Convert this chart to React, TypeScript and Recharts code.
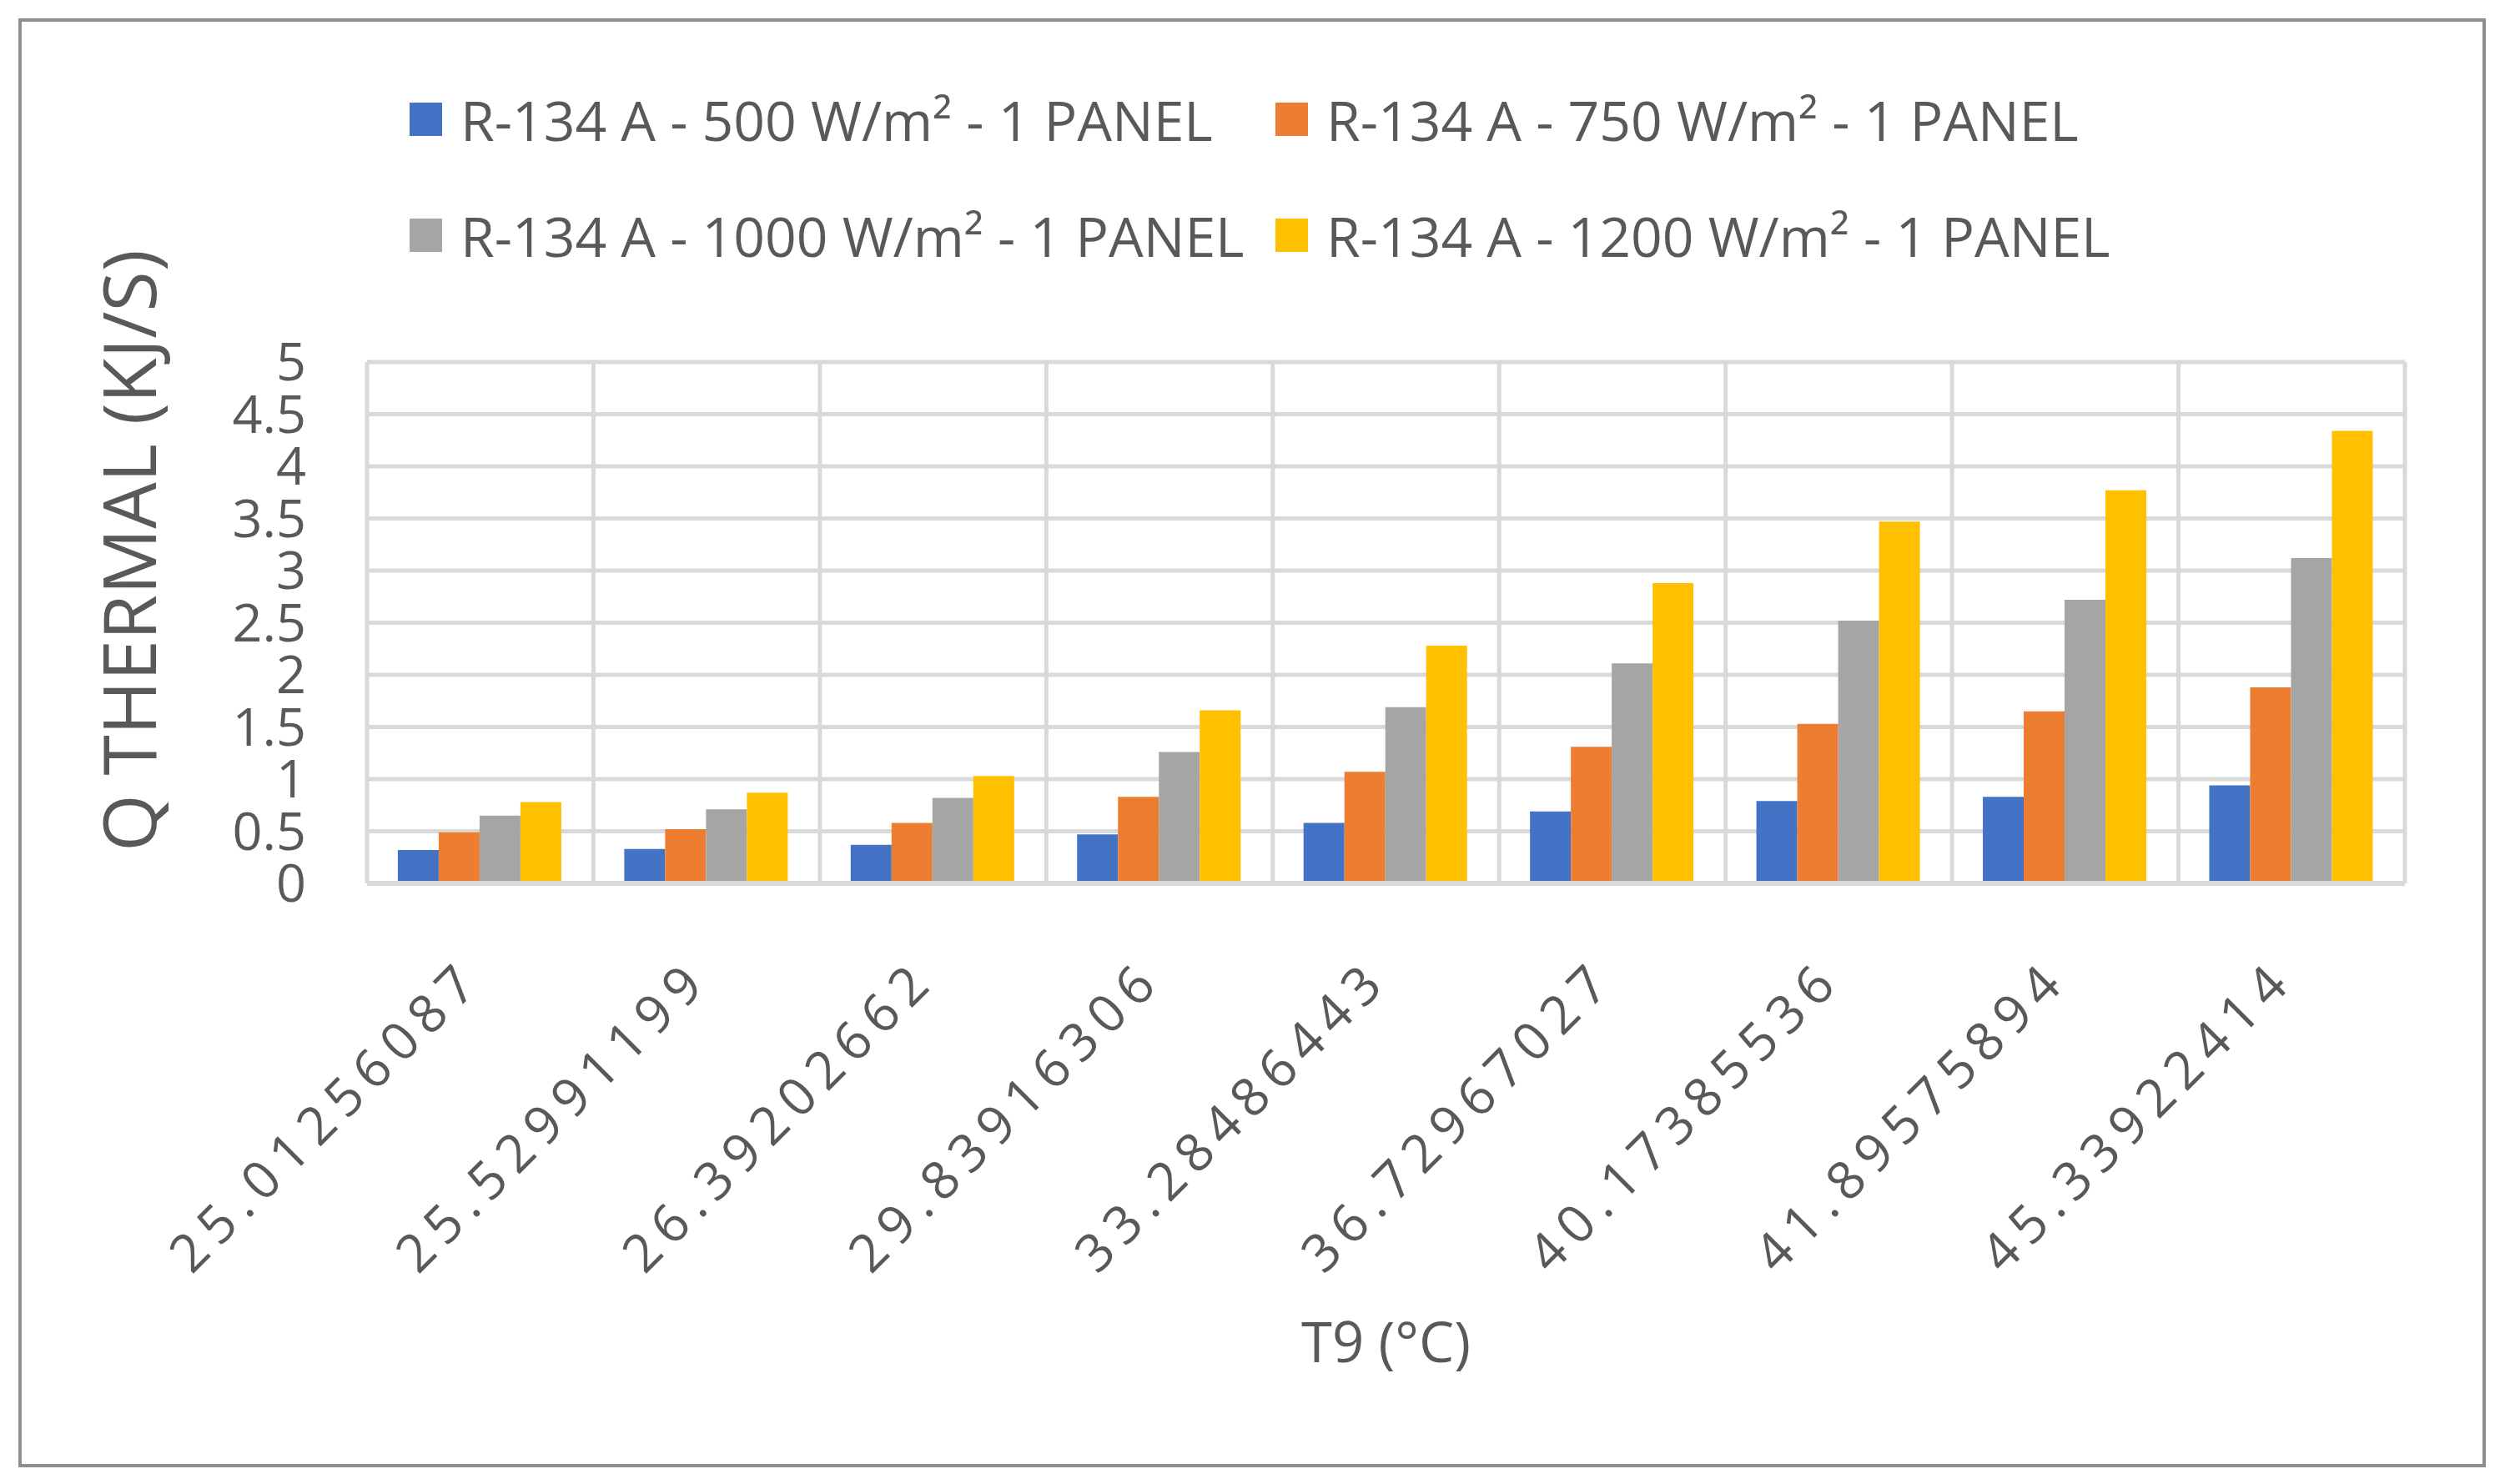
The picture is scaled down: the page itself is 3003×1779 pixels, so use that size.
import { BarChart, Bar, XAxis, YAxis, CartesianGrid, Legend, Label } from "recharts";

const categories = [
  "25.01256087",
  "25.52991199",
  "26.39202662",
  "29.83916306",
  "33.28486443",
  "36.72967027",
  "40.17385536",
  "41.89575894",
  "45.33922414",
];

const q500 = [0.32, 0.33, 0.37, 0.47, 0.58, 0.69, 0.79, 0.83, 0.94];
const q750 = [0.49, 0.52, 0.58, 0.83, 1.07, 1.31, 1.53, 1.65, 1.88];
const q1000 = [0.65, 0.71, 0.82, 1.26, 1.69, 2.11, 2.52, 2.72, 3.12];
const q1200 = [0.78, 0.87, 1.03, 1.66, 2.28, 2.88, 3.47, 3.77, 4.34];

const yTicks = [0, 0.5, 1, 1.5, 2, 2.5, 3, 3.5, 4, 4.5, 5];

const seriesNames = [
  "R-134 A - 500 W/m² - 1 PANEL",
  "R-134 A - 750 W/m² - 1 PANEL",
  "R-134 A - 1000 W/m² - 1 PANEL",
  "R-134 A - 1200 W/m² - 1 PANEL",
];
const seriesColors = ["#4472c4", "#ed7d31", "#a5a5a5", "#ffc000"];

const data = categories.map((t, i) => ({
  t,
  a: q500[i],
  b: q750[i],
  c: q1000[i],
  d: q1200[i],
}));

const FONT = "'Open Sans', 'Noto Sans', sans-serif";
const TEXT = "#595959";

const XTick = ({ x, y, payload }: any) => (
  <g transform={`translate(${x + 6},${y + 118})`}>
    <text
      textAnchor="end"
      transform="rotate(-45)"
      fill={TEXT}
      fontSize={63}
      letterSpacing={11}
      fontFamily={FONT}
    >
      {payload.value}
    </text>
  </g>
);

// legend in two rows, two columns (same order as the bars)
const legendCols = [491, 1529];
const legendRows = [143, 282];

const renderLegend = () => (
  <div style={{ position: "relative", width: 3003, height: 360 }}>
    {seriesNames.map((name, i) => (
      <div
        key={name}
        style={{
          position: "absolute",
          left: legendCols[i % 2],
          top: legendRows[Math.floor(i / 2)] - 50,
          height: 100,
          display: "flex",
          alignItems: "center",
          whiteSpace: "nowrap",
        }}
      >
        <span
          style={{
            width: 39,
            height: 40,
            background: seriesColors[i],
            display: "inline-block",
            marginRight: 22,
          }}
        />
        <span
          style={{
            fontFamily: FONT,
            fontSize: 66,
            color: TEXT,
            lineHeight: 1,
          }}
        >
          {name}
        </span>
      </div>
    ))}
  </div>
);

const App = () => {
  return (
    <div
      style={{
        position: "absolute",
        left: 0,
        top: 0,
        width: 3003,
        height: 1779,
        background: "#fff",
      }}
    >
      <div
        style={{
          position: "absolute",
          left: 22,
          top: 22,
          width: 2958,
          height: 1737,
          border: "4px solid #8e8e8e",
          boxSizing: "border-box",
        }}
      />
      <BarChart
        width={3003}
        height={1779}
        data={data}
        margin={{ top: 434, right: 120, left: 0, bottom: 0 }}
        barCategoryGap="13.6%"
        barGap={0}
        style={{ position: "absolute", left: 0, top: 0 }}
      >
        <CartesianGrid
          stroke="#d9d9d9"
          strokeWidth={5}
          verticalCoordinatesGenerator={({ offset }: any) =>
            Array.from(
              { length: categories.length + 1 },
              (_, i) => offset.left + (i * offset.width) / categories.length
            )
          }
        />
        <XAxis
          dataKey="t"
          height={720}
          interval={0}
          tickSize={0}
          tickMargin={0}
          axisLine={{ stroke: "#d9d9d9", strokeWidth: 6 }}
          tickLine={false}
          tick={<XTick />}
        >
          <Label
            content={({ viewBox }: any) => (
              <text
                x={viewBox.x + viewBox.width / 2}
                y={viewBox.y + 574}
                textAnchor="middle"
                fill={TEXT}
                fontSize={67}
                fontFamily={FONT}
              >
                T9 (°C)
              </text>
            )}
          />
        </XAxis>
        <YAxis
          width={440}
          domain={[0, 5]}
          ticks={yTicks}
          interval={0}
          tickSize={0}
          tickMargin={73}
          axisLine={false}
          tickLine={false}
          tick={{ fill: TEXT, fontSize: 63, fontFamily: FONT }}
        >
          <Label
            content={({ viewBox }: any) => (
              <text
                x={viewBox.x + 187}
                y={viewBox.y + 226}
                transform={`rotate(-90, ${viewBox.x + 187}, ${viewBox.y + 226})`}
                textAnchor="middle"
                fill={TEXT}
                fontSize={88}
                fontFamily={FONT}
              >
                Q THERMAL (KJ/S)
              </text>
            )}
          />
        </YAxis>
        <Legend
          layout="horizontal"
          verticalAlign="middle"
          align="center"
          content={renderLegend}
          wrapperStyle={{ left: 0, top: 0, width: 3003 }}
        />
        <Bar dataKey="a" name={seriesNames[0]} fill={seriesColors[0]} isAnimationActive={false} />
        <Bar dataKey="b" name={seriesNames[1]} fill={seriesColors[1]} isAnimationActive={false} />
        <Bar dataKey="c" name={seriesNames[2]} fill={seriesColors[2]} isAnimationActive={false} />
        <Bar dataKey="d" name={seriesNames[3]} fill={seriesColors[3]} isAnimationActive={false} />
      </BarChart>
    </div>
  );
};

export default App;
